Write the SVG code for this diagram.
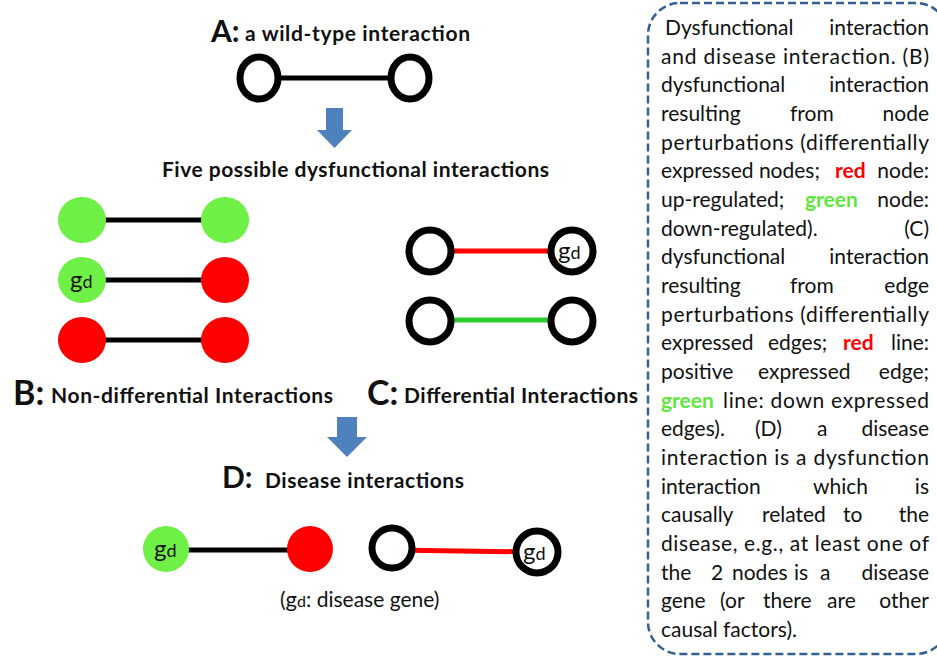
<svg xmlns="http://www.w3.org/2000/svg" width="937" height="658" viewBox="0 0 937 658">
<style>
.hd{font-family:Lato,"Liberation Sans",sans-serif;font-weight:bold;fill:#111}
.p{font-family:Lato,"Liberation Sans",sans-serif;font-size:21px;fill:#111}
.ring{fill:#fff;stroke:#000;stroke-width:7}
.gr{fill:#6EF046}
.rd{fill:#FF0000}
.e{stroke:#000;stroke-width:5}
.er{stroke:#FF0000;stroke-width:5}
.eg{stroke:#2ECC2E;stroke-width:5}
.gl{font-family:Lato,"Liberation Sans",sans-serif;fill:#111}
.arr{fill:#4F81BD}
.rt{fill:#FF0000;font-weight:bold}
.gt{fill:#5EE83A;font-weight:bold}
</style>
<rect width="937" height="658" fill="#fff"/>
<g id="titles">
<text class="hd" x="211" y="42" font-size="30">A:</text>
<text class="hd" x="245" y="41" font-size="21" textLength="225">a wild-type interaction</text>
<text class="hd" x="162" y="177" font-size="21" textLength="387">Five possible dysfunctional interactions</text>
<text class="hd" x="13" y="405" font-size="34">B:</text>
<text class="hd" x="51" y="403" font-size="21" textLength="282">Non-differential Interactions</text>
<text class="hd" x="367" y="405" font-size="34">C:</text>
<text class="hd" x="404" y="403" font-size="21" textLength="234">Differential Interactions</text>
<text class="hd" x="222" y="488" font-size="30">D:</text>
<text class="hd" x="265" y="488" font-size="21" textLength="199">Disease interactions</text>
<text class="gl" x="280" y="607" font-size="21">(<tspan font-size="22">g</tspan><tspan font-size="16">d</tspan>: disease gene)</text>
</g>
<g id="arrows">
<polygon class="arr" points="326,108 343,108 343,130 352,130 334.5,148 317,130 326,130"/>
<polygon class="arr" points="337,417 357,417 357,437 367,437 347,457 327,437 337,437"/>
</g>
<g id="connectors">
<line class="e" x1="259" y1="78" x2="410" y2="78"/>
<line class="e" x1="82" y1="220" x2="225" y2="220"/>
<line class="e" x1="82" y1="280" x2="225" y2="280"/>
<line class="e" x1="82" y1="340" x2="225" y2="340"/>
<line class="er" x1="430" y1="251" x2="572" y2="251"/>
<line class="eg" x1="430" y1="320" x2="572" y2="320"/>
<line class="e" x1="166" y1="550" x2="310" y2="550"/>
<line class="er" x1="392" y1="550" x2="537" y2="552"/>
</g>
<g id="node-a1"><ellipse class="ring" cx="259" cy="78" rx="19" ry="21"/></g>
<g id="node-a2"><ellipse class="ring" cx="410" cy="78" rx="19" ry="21"/></g>
<g id="node-b1l"><ellipse class="gr" cx="82" cy="220" rx="24" ry="23"/></g>
<g id="node-b1r"><ellipse class="gr" cx="225" cy="220" rx="24" ry="23"/></g>
<g id="node-b2l"><ellipse class="gr" cx="82" cy="280" rx="24" ry="23"/><text class="gl" x="70" y="288"><tspan font-size="24">g</tspan><tspan font-size="18">d</tspan></text></g>
<g id="node-b2r"><ellipse class="rd" cx="225" cy="280" rx="24" ry="23"/></g>
<g id="node-b3l"><ellipse class="rd" cx="82" cy="340" rx="24" ry="23"/></g>
<g id="node-b3r"><ellipse class="rd" cx="225" cy="340" rx="24" ry="23"/></g>
<g id="node-c1l"><ellipse class="ring" cx="430" cy="251" rx="21" ry="21"/></g>
<g id="node-c1r"><ellipse class="ring" cx="572" cy="251" rx="21" ry="21"/><text class="gl" x="558" y="259"><tspan font-size="24">g</tspan><tspan font-size="18">d</tspan></text></g>
<g id="node-c2l"><ellipse class="ring" cx="430" cy="321" rx="21" ry="21"/></g>
<g id="node-c2r"><ellipse class="ring" cx="572" cy="321" rx="21" ry="21"/></g>
<g id="node-d1"><circle class="gr" cx="166" cy="549" r="23"/><text class="gl" x="154" y="557"><tspan font-size="24">g</tspan><tspan font-size="18">d</tspan></text></g>
<g id="node-d2"><circle class="rd" cx="310" cy="549" r="23"/></g>
<g id="node-d3"><circle class="ring" cx="392" cy="548" r="20"/></g>
<g id="node-d4"><circle class="ring" cx="537" cy="552" r="21"/><text class="gl" x="523" y="560"><tspan font-size="24">g</tspan><tspan font-size="18">d</tspan></text></g>
<g id="caption">
<rect x="648" y="3" width="300" height="651" rx="32" fill="none" stroke="#335F91" stroke-width="2.5" stroke-dasharray="8,4"/>
<text class="p" x="665" y="35">Dysfunctional</text><text class="p" x="929" y="35" text-anchor="end">interaction</text>
<text class="p" x="661" y="64" textLength="268">and disease interaction. (B)</text>
<text class="p" x="661" y="92">dysfunctional</text><text class="p" x="929" y="92" text-anchor="end">interaction</text>
<text class="p" x="661" y="121">resulting</text><text class="p" x="790" y="121">from</text><text class="p" x="929" y="121" text-anchor="end">node</text>
<text class="p" x="661" y="150" textLength="268">perturbations (differentially</text>
<text class="p" x="661" y="178">expressed nodes;</text><text class="p rt" x="835" y="178">red</text><text class="p" x="929" y="178" text-anchor="end">node:</text>
<text class="p" x="661" y="207">up-regulated;</text><text class="p gt" x="805" y="207">green</text><text class="p" x="929" y="207" text-anchor="end">node:</text>
<text class="p" x="661" y="236">down-regulated).</text><text class="p" x="929" y="236" text-anchor="end">(C)</text>
<text class="p" x="661" y="264">dysfunctional</text><text class="p" x="929" y="264" text-anchor="end">interaction</text>
<text class="p" x="661" y="293">resulting</text><text class="p" x="790" y="293">from</text><text class="p" x="929" y="293" text-anchor="end">edge</text>
<text class="p" x="661" y="322" textLength="268">perturbations (differentially</text>
<text class="p" x="661" y="350">expressed</text><text class="p" x="768" y="350">edges;</text><text class="p rt" x="843" y="350">red</text><text class="p" x="929" y="350" text-anchor="end">line:</text>
<text class="p" x="661" y="379">positive</text><text class="p" x="758" y="379">expressed</text><text class="p" x="929" y="379" text-anchor="end">edge;</text>
<text class="p gt" x="661" y="408">green</text><text class="p" x="723" y="408" textLength="206">line: down expressed</text>
<text class="p" x="661" y="436">edges).</text><text class="p" x="755" y="436">(D)</text><text class="p" x="817" y="436">a</text><text class="p" x="929" y="436" text-anchor="end">disease</text>
<text class="p" x="661" y="465" textLength="268">interaction is a dysfunction</text>
<text class="p" x="661" y="494">interaction</text><text class="p" x="813" y="494">which</text><text class="p" x="929" y="494" text-anchor="end">is</text>
<text class="p" x="661" y="522">causally</text><text class="p" x="762" y="522">related</text><text class="p" x="843" y="522">to</text><text class="p" x="929" y="522" text-anchor="end">the</text>
<text class="p" x="661" y="551" textLength="268">disease, e.g., at least one of</text>
<text class="p" x="661" y="580">the</text><text class="p" x="711" y="580">2</text><text class="p" x="732" y="580">nodes</text><text class="p" x="794" y="580">is</text><text class="p" x="820" y="580">a</text><text class="p" x="929" y="580" text-anchor="end">disease</text>
<text class="p" x="661" y="608">gene</text><text class="p" x="720" y="608">(or</text><text class="p" x="763" y="608">there</text><text class="p" x="827" y="608">are</text><text class="p" x="929" y="608" text-anchor="end">other</text>
<text class="p" x="661" y="637">causal factors).</text>
</g>
</svg>
